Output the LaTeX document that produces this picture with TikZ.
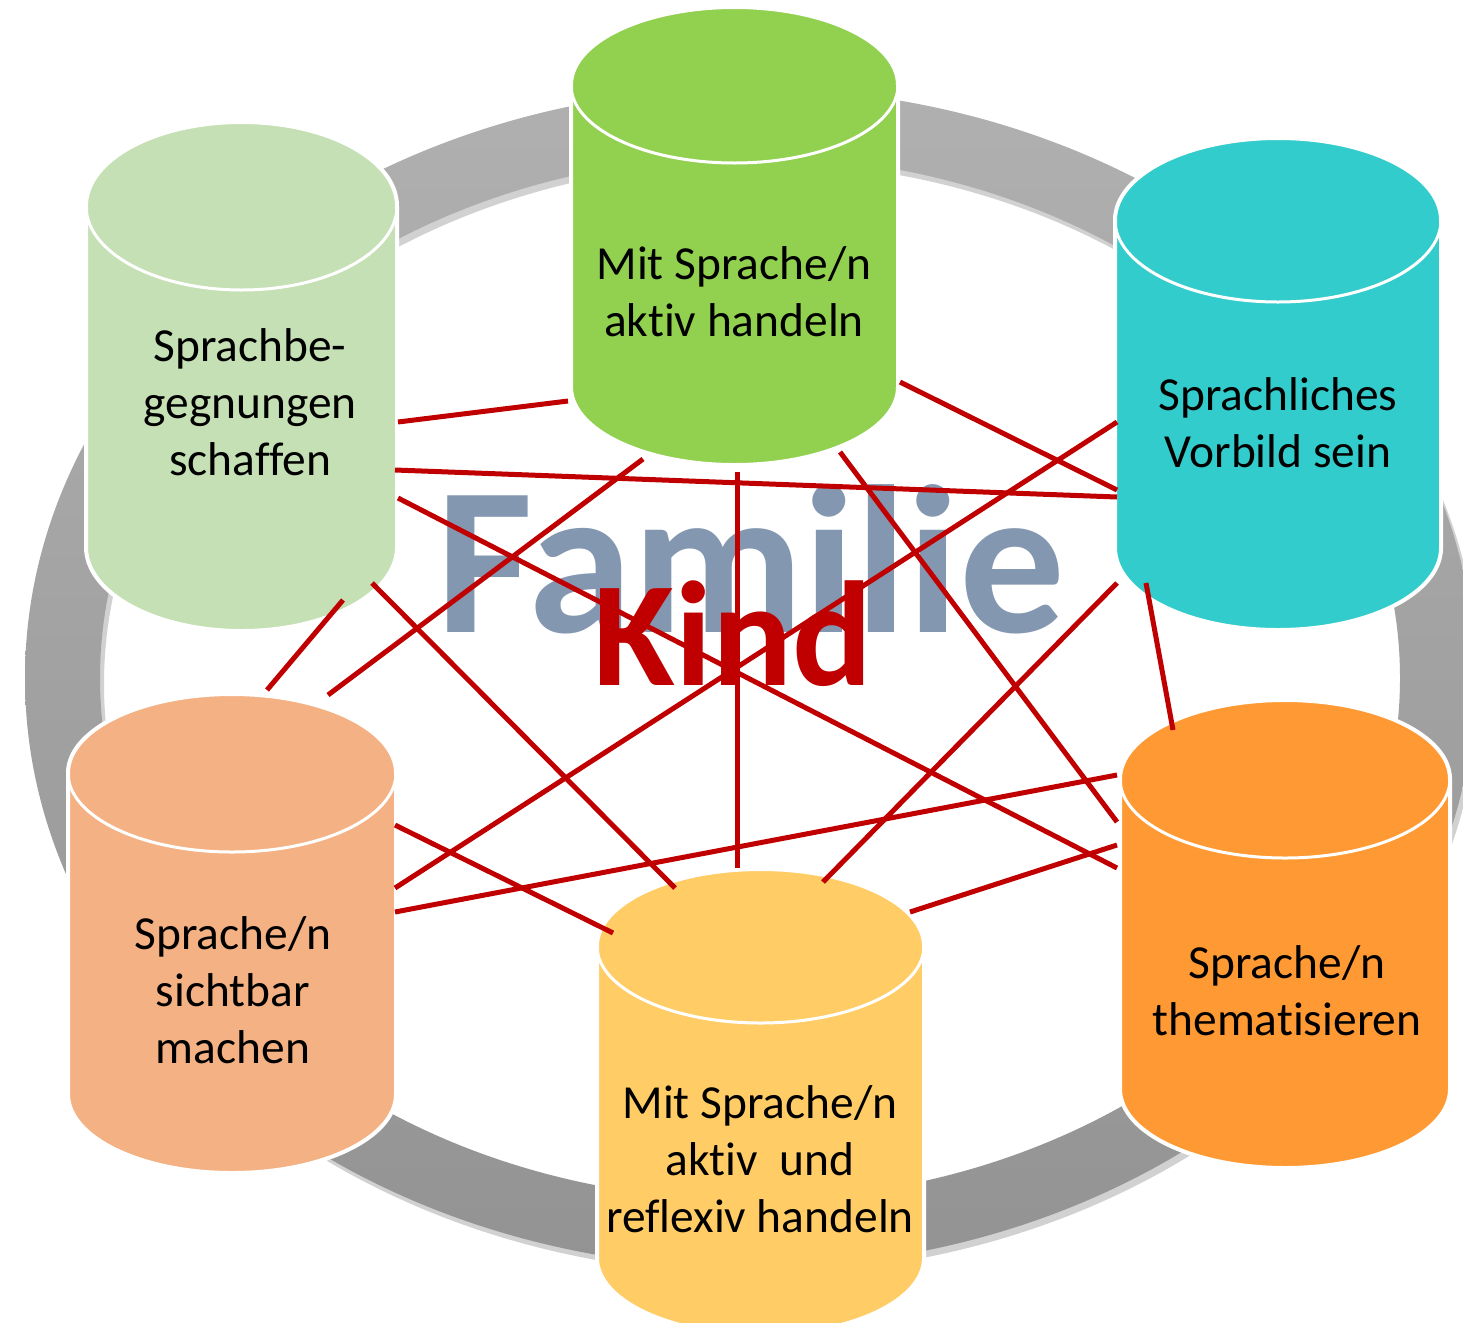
\documentclass[tikz,border=0pt]{standalone}
\usepackage{fontspec}
\setmainfont[Ligatures=NoCommon]{Carlito}
\usepackage{tikz}
\definecolor{cylA}{HTML}{C5E0B4}
\definecolor{cylB}{HTML}{92D050}
\definecolor{cylC}{HTML}{33CCCC}
\definecolor{cylD}{HTML}{F4B183}
\definecolor{cylE}{HTML}{FFCC66}
\definecolor{cylF}{HTML}{FF9933}
\definecolor{linkred}{HTML}{C00000}
\definecolor{famgray}{HTML}{8497B0}
\definecolor{ringtop}{HTML}{B0B0B0}
\definecolor{ringbot}{HTML}{939393}
\tikzstyle{link}=[draw=linkred, line width=1mm]
\tikzstyle{lbl}=[align=center, text=black, inner sep=0pt, font=\fontsize{27}{32.4}\selectfont]
\tikzstyle{big}=[inner sep=0pt, anchor=base, font=\bfseries]

\begin{document}
\begin{tikzpicture}[x=0.02cm, y=0.02cm]
    \useasboundingbox (0,0) rectangle (1463,-1322);
    % ring
    \fill[black, opacity=.18, even odd rule]
      (754,-684) ellipse [x radius=725, y radius=590]
      (754,-684) ellipse [x radius=650, y radius=522];
    \shade[top color=ringtop, bottom color=ringbot, even odd rule]
      (750,-678) ellipse [x radius=725, y radius=590]
      (750,-678) ellipse [x radius=650, y radius=522];
    % cylinders
    \foreach \n/\cx/\yt/\yb/\rx/\ry/\col in
      {A/241.5/206/547/155.5/84/cylA, B/734.5/85/387/163.5/78/cylB,
       C/1278/220/548/163/82/cylC, D/232/773/1094/164/79/cylD,
       E/760.5/946/1258/163.5/77/cylE, F/1285/779/1089/165/79/cylF}
    {
      \filldraw[fill=\col, draw=white, line width=.08cm]
        (\cx-\rx,-\yt) -- (\cx-\rx,-\yb)
        arc[start angle=180, end angle=360, x radius=\rx, y radius=\ry]
        -- (\cx+\rx,-\yt)
        arc[start angle=0, end angle=180, x radius=\rx, y radius=\ry] -- cycle;
      \draw[white, line width=.06cm] (\cx-\rx,-\yt)
        arc[start angle=180, end angle=360, x radius=\rx, y radius=\ry];
    }
    \node[lbl] (tA) at (250,-402) {Sprachbe-\\gegnungen\\schaffen};
    \node[lbl] (tB) at (734,-292) {Mit Sprache/n\\aktiv handeln};
    \node[lbl] (tC) at (1278,-423) {Sprachliches\\Vorbild sein};
    \node[lbl] (tD) at (233,-990) {Sprache/n\\sichtbar\\machen};
    \node[lbl] (tE) at (760,-1159) {Mit Sprache/n\\aktiv\ \ und\\reflexiv handeln};
    \node[lbl] (tF) at (1287,-991) {Sprache/n\\thematisieren};
    \node[big, text=famgray, font=\fontsize{120}{120}\selectfont\bfseries] (fam) at (751,-632) {Familie};
    % link ends
    \coordinate (A2B) at (398,-422);  \coordinate (B2A) at (568,-401);
    \coordinate (A2C) at (395,-470);  \coordinate (C2A) at (1117,-497);
    \coordinate (A2F) at (398,-498);  \coordinate (F2A) at (1117,-868);
    \coordinate (A2D) at (343,-600);  \coordinate (D2A) at (267,-690);
    \coordinate (A2E) at (372,-583);  \coordinate (E2A) at (675,-888);
    \coordinate (B2D) at (643,-459);  \coordinate (D2B) at (328,-695);
    \coordinate (B2E) at (737,-472);  \coordinate (E2B) at (737,-868);
    \coordinate (B2F) at (840,-452);  \coordinate (F2B) at (1117,-822);
    \coordinate (B2C) at (900,-382);  \coordinate (C2B) at (1117,-490);
    \coordinate (C2D) at (1117,-422); \coordinate (D2C) at (395,-888);
    \coordinate (C2E) at (1117,-583); \coordinate (E2C) at (823,-882);
    \coordinate (C2F) at (1146,-583); \coordinate (F2C) at (1173,-730);
    \coordinate (D2E) at (395,-825);  \coordinate (E2D) at (613,-933);
    \coordinate (D2F) at (395,-912);  \coordinate (F2D) at (1117,-775);
    \coordinate (E2F) at (910,-912);  \coordinate (F2E) at (1117,-845);
    \foreach \from/\to in
      {A2B/B2A, A2C/C2A, A2F/F2A, A2D/D2A, A2E/E2A, B2D/D2B, B2E/E2B, B2F/F2B,
       B2C/C2B, C2D/D2C, C2E/E2C, C2F/F2C, D2E/E2D, D2F/F2D, E2F/F2E}
    \draw[link] (\from) -- (\to);
    \node[big, text=linkred, font=\fontsize{85}{85}\selectfont\bfseries] (kind) at (733,-685) {Kind};
\end{tikzpicture}
\end{document}
